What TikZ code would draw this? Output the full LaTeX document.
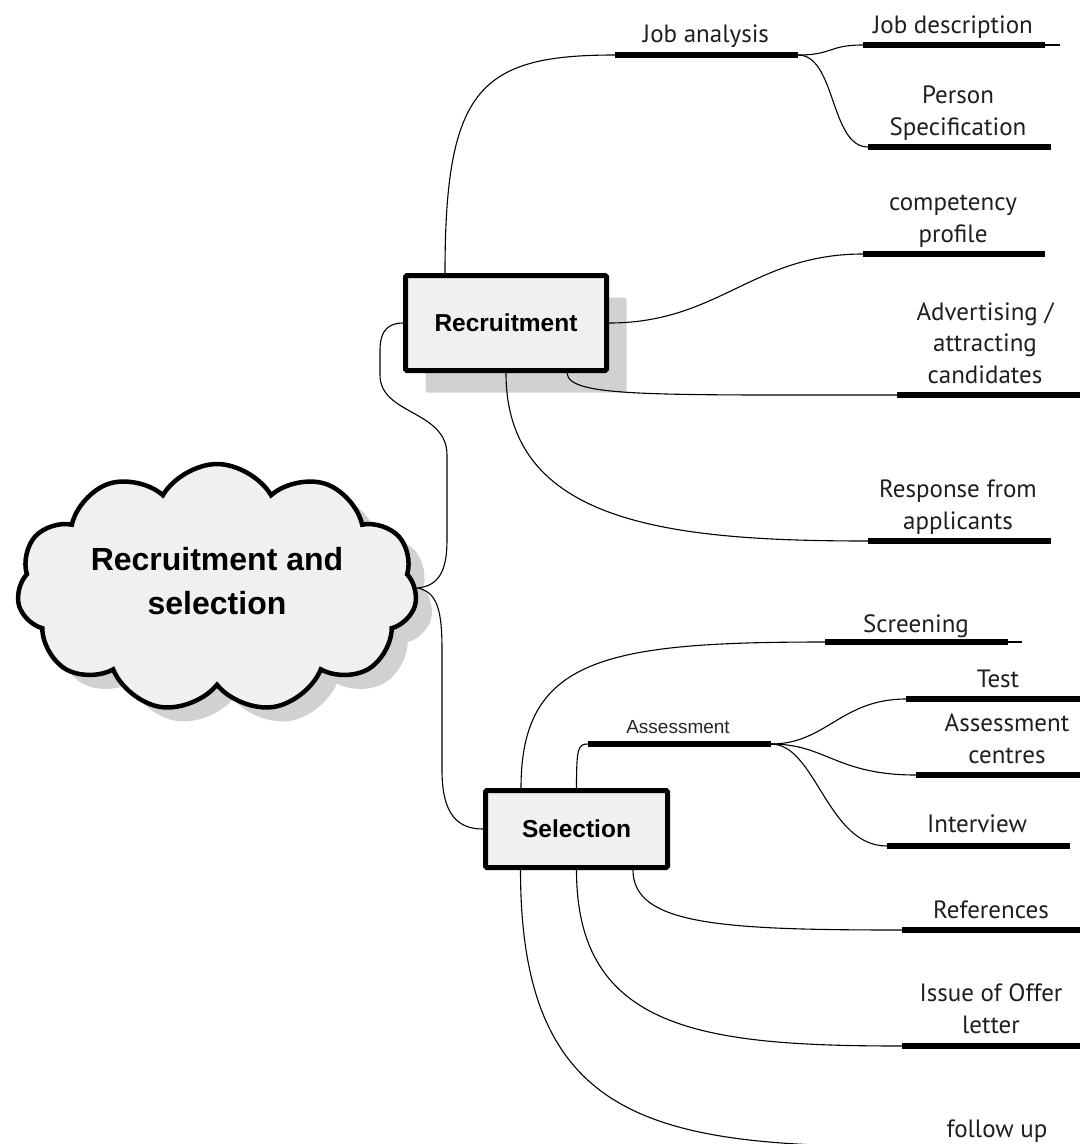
\documentclass[tikz,border=0pt]{standalone}
\usepackage{fontspec}
\setmainfont{PT Sans}
\newfontfamily\arialfont{Liberation Sans}
\usetikzlibrary{shapes.symbols,shadows}
\begin{document}
\begin{tikzpicture}[x=1pt,y=-1pt,
  conn/.style={line width=1.1pt, black},
  bar/.style={line width=6pt, black},
  lbl/.style={font=\fontsize{25}{31.5}\selectfont, align=center, anchor=base, inner sep=0pt, text=black!88},
  smalllbl/.style={font=\arialfont\fontsize{19}{22}\selectfont, anchor=base, inner sep=0pt, text=black!85},
  boxnode/.style={draw, line width=5pt, fill=black!6, rounded corners=1.5pt, inner sep=0pt,
     font=\arialfont\bfseries\fontsize{24.5}{28}\selectfont},
  cloudnode/.style={cloud, cloud puffs=11, cloud puff arc=120, cloud ignores aspect, draw, line width=4.5pt,
     fill=black!6, minimum width=400pt, minimum height=248pt, inner sep=0pt, align=center,
     font=\arialfont\bfseries\fontsize{32}{44}\selectfont},
  shadowA/.style={drop shadow={shadow xshift=16pt, shadow yshift=-14pt, fill=black!18, opacity=1}},
  shadowB/.style={drop shadow={shadow xshift=20pt, shadow yshift=-22pt, fill=black!18, opacity=1}}
]
\useasboundingbox (0,0) rectangle (1080,1144);
\clip (0,0) rectangle (1080,1144);
\fill[white] (0,0) rectangle (1080,1144);

% main nodes
\node[cloudnode, shadowA] (C) at (217,588) {Recruitment and\\selection\rule[-14pt]{0pt}{14pt}};
\node[boxnode, shadowB, minimum width=201pt, minimum height=95pt] (R) at (506,323) {Recruitment};
\node[boxnode, minimum width=182pt, minimum height=77pt] (S) at (576.5,829) {Selection};

% bar end points
\coordinate (ja1) at (615,55);  \coordinate (ja2) at (798,55);
\coordinate (jd1) at (863,45);  \coordinate (jd2) at (1045,45); \coordinate (jd3) at (1060,45);
\coordinate (ps1) at (868,147); \coordinate (ps2) at (1051,147);
\coordinate (cp1) at (863,254); \coordinate (cp2) at (1045,254);
\coordinate (ad1) at (897,395); \coordinate (ad2) at (1080,395);
\coordinate (ra1) at (868,541); \coordinate (ra2) at (1051,541);
\coordinate (sc1) at (825,642); \coordinate (sc2) at (1008,642); \coordinate (sc3) at (1022,642);
\coordinate (as1) at (588,744); \coordinate (as2) at (771,744);
\coordinate (te1) at (906,699); \coordinate (te2) at (1080,699);
\coordinate (ac1) at (916,775); \coordinate (ac2) at (1080,775);
\coordinate (iv1) at (887,846); \coordinate (iv2) at (1070,846);
\coordinate (rf1) at (902,930); \coordinate (rf2) at (1080,930);
\coordinate (of1) at (902,1046); \coordinate (of2) at (1080,1046);
\coordinate (fu1) at (902,1146.5); \coordinate (fu2) at (1080,1146.5);

% bars
\foreach \a/\b in {ja1/ja2, jd1/jd2, ps1/ps2, cp1/cp2, ad1/ad2, ra1/ra2, sc1/sc2, as1/as2,
                   te1/te2, ac1/ac2, iv1/iv2, rf1/rf2, of1/of2, fu1/fu2}
  \draw[bar] (\a) -- (\b);
\draw[conn] (jd2) -- (jd3);
\draw[conn] (sc2) -- (sc3);

% labels (anchor = baseline of the last line)
\node[lbl] (lja) at (706,42) {Job analysis};
\node[lbl] (ljd) at (953,33) {Job description};
\node[lbl] (lps) at (958,135) {Person\\Specification};
\node[lbl] (lcp) at (953,242) {competency\\profile};
\node[lbl] (lad) at (985,383) {Advertising /\\attracting\\candidates};
\node[lbl] (lra) at (958,529) {Response from\\applicants};
\node[lbl] (lsc) at (916,632) {Screening};
\node[smalllbl] (las) at (678,733) {Assessment};
\node[lbl] (lte) at (998,687) {Test};
\node[lbl] (lac) at (1007,763) {Assessment\\centres};
\node[lbl] (liv) at (977,832) {Interview};
\node[lbl] (lrf) at (991,918) {References};
\node[lbl] (lof) at (991,1033) {Issue of Offer\\letter};
\node[lbl] (lfu) at (997,1137) {follow up};

% connectors: cloud
\draw[conn] (C.east) .. controls +(22,-2) and +(0,30) .. (447,540) -- (447,455)
   .. controls +(0,-45) and +(0,40) .. (380,375) -- (380,350)
   .. controls +(0,-22) and +(-12,0) .. (R.west);
\draw[conn] (C.east) .. controls +(20,4) and +(0,-40) .. (442,650) -- (442,770)
   .. controls +(0,45) and +(-25,0) .. (S.west);

% connectors: recruitment
\draw[conn] ([xshift=-61pt]R.north) .. controls +(0,-185) and +(-135,0) .. (ja1);
\draw[conn] (ja2) .. controls +(35,0) and +(-35,0) .. (jd1);
\draw[conn] (ja2) .. controls +(38,0) and +(-38,0) .. (ps1);
\draw[conn] (R.east) .. controls +(110,0) and +(-110,0) .. (cp1);
\draw[conn] ([xshift=61pt]R.south) .. controls +(2,24) and +(-250,0) .. (ad1);
\draw[conn] (R.south) .. controls +(0,150) and +(-200,0) .. (ra1);

% connectors: selection
\draw[conn] ([xshift=-55.5pt]S.north) .. controls +(0,-130) and +(-220,0) .. (sc1);
\draw[conn] (S.north) .. controls +(0,-40) and +(-10,0) .. (as1);
\draw[conn] (as2) .. controls +(55,0) and +(-65,0) .. (te1);
\draw[conn] (as2) .. controls +(55,0) and +(-80,0) .. (ac1);
\draw[conn] (as2) .. controls +(45,0) and +(-60,0) .. (iv1);
\draw[conn] ([xshift=56.5pt]S.south) .. controls +(0,55) and +(-180,0) .. (rf1);
\draw[conn] (S.south) .. controls +(0,160) and +(-200,0) .. (of1);
\draw[conn] ([xshift=-56pt]S.south) .. controls +(0,250) and +(-250,0) .. (fu1);
\end{tikzpicture}
\end{document}
